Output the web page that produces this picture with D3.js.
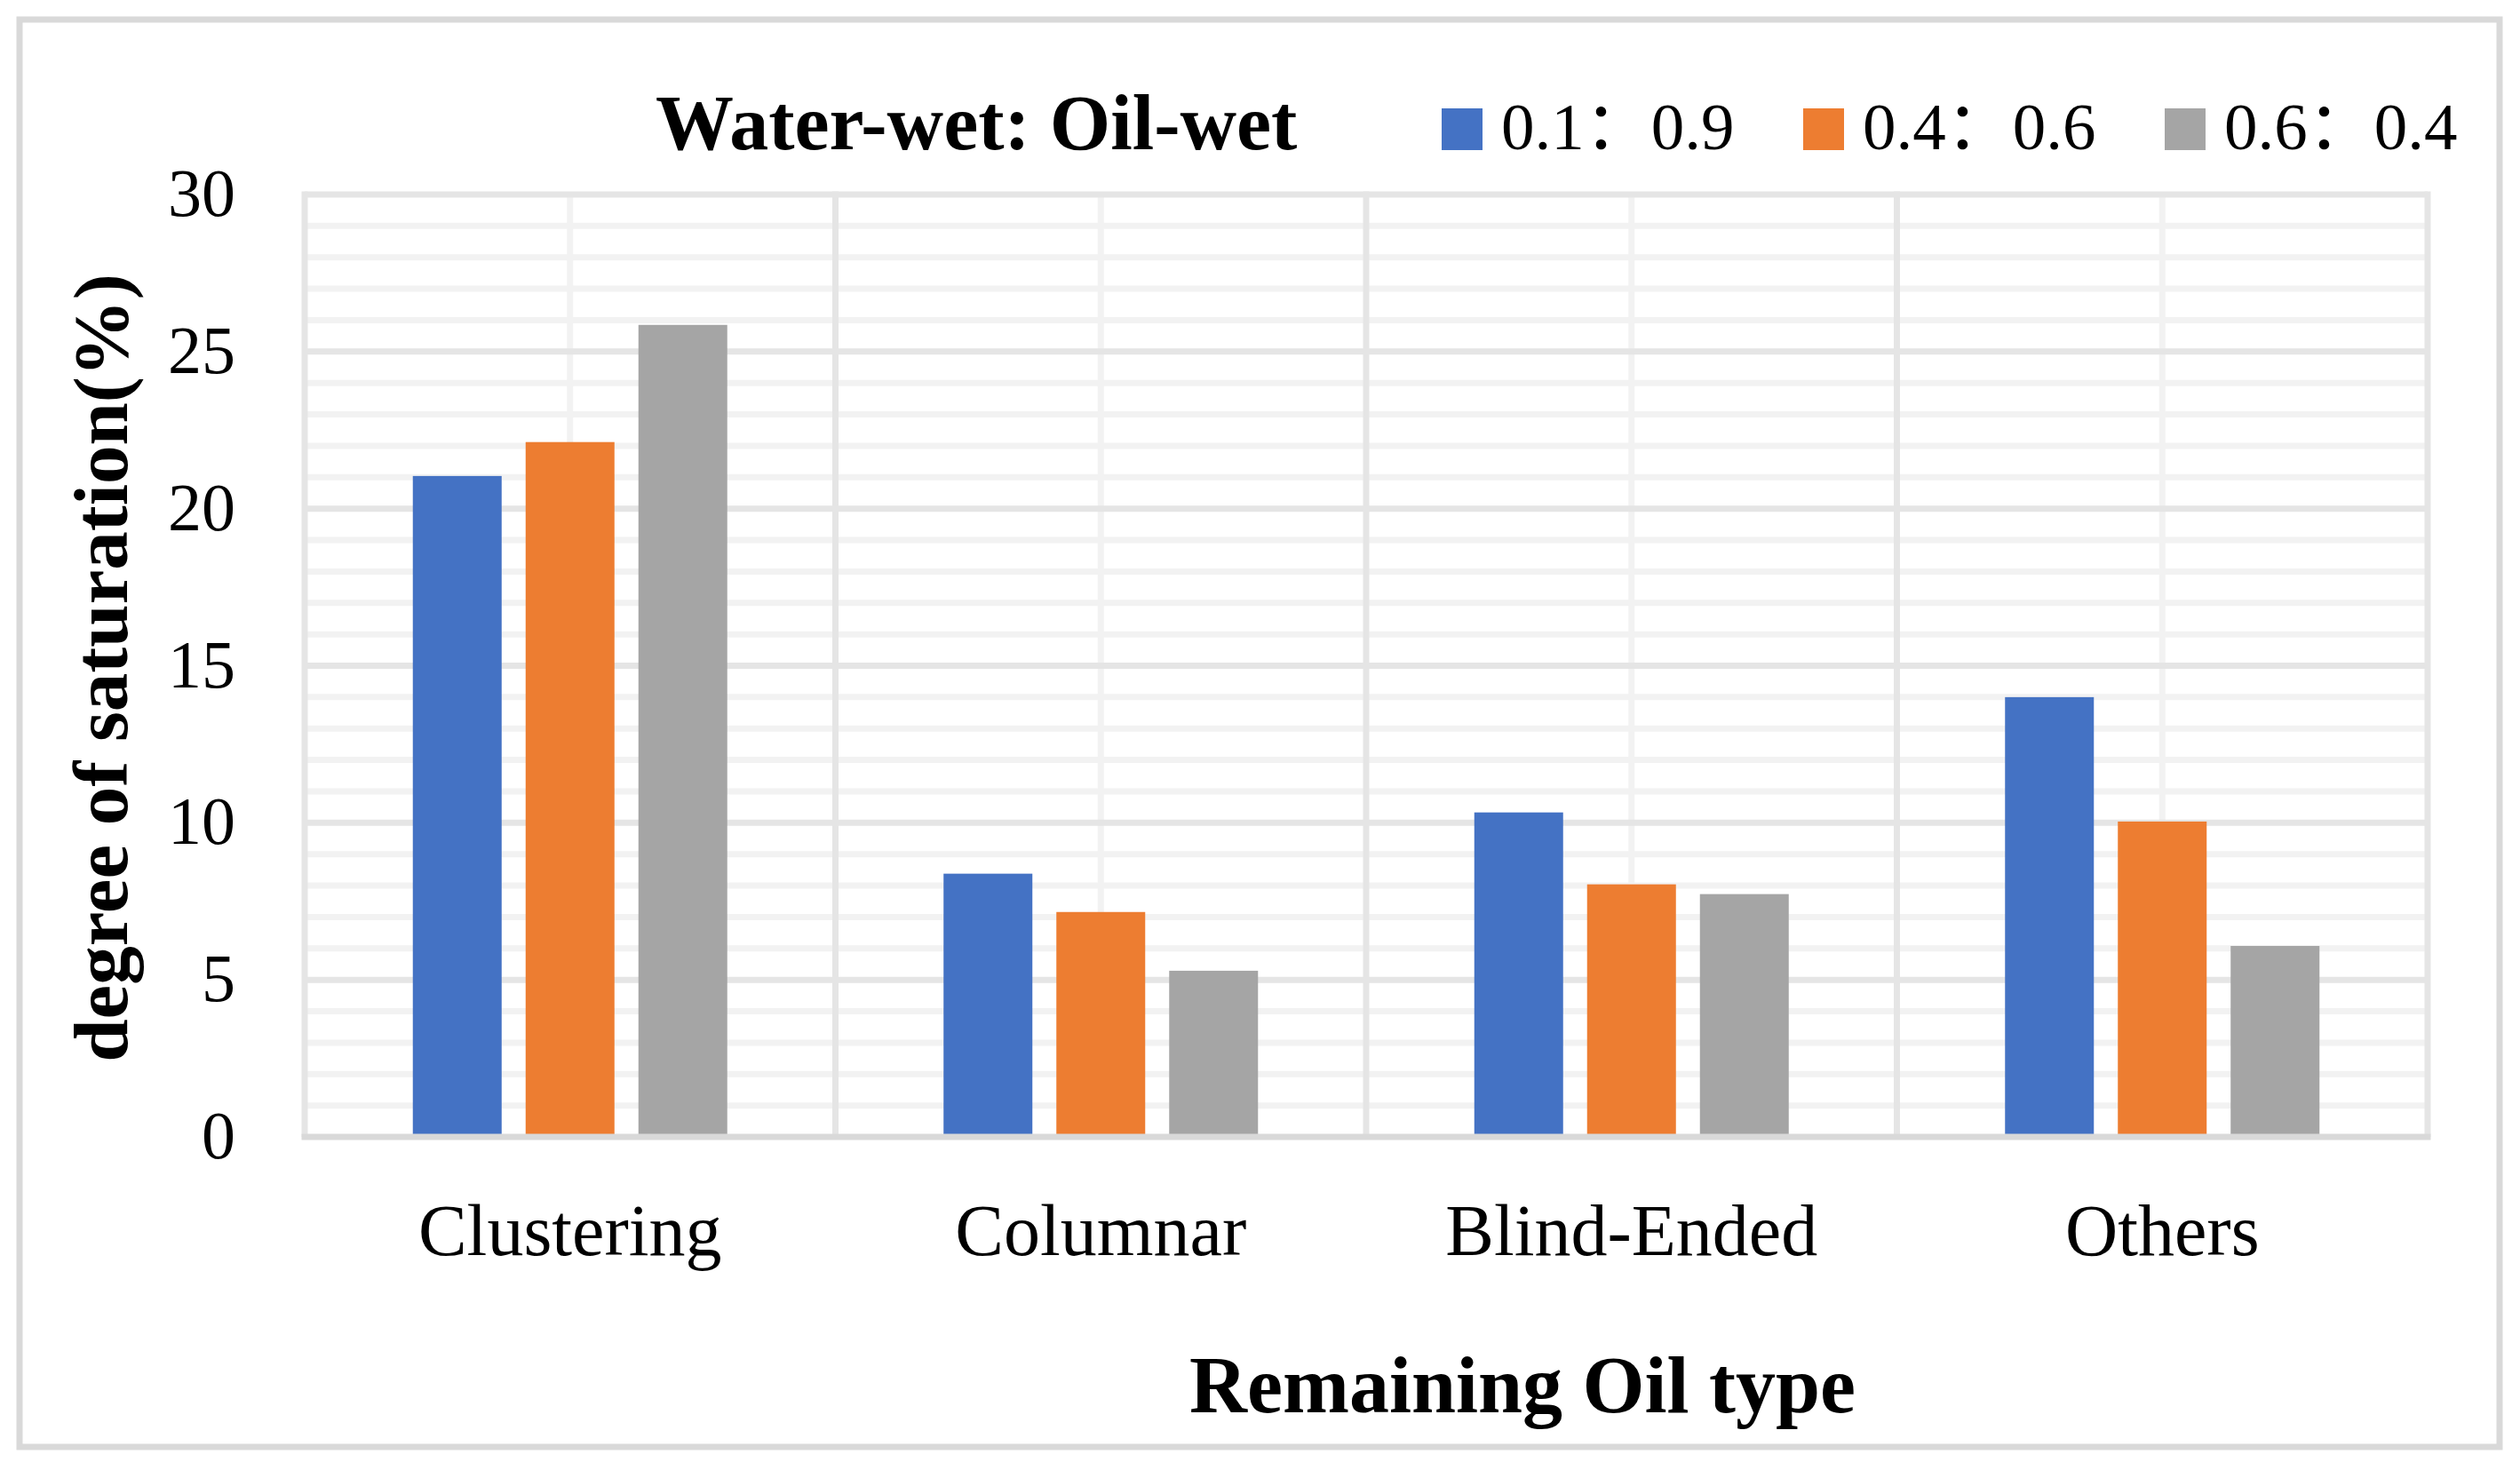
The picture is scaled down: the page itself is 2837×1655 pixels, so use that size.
<!DOCTYPE html>
<html>
<head>
<meta charset="utf-8">
<script src="https://cdn.jsdelivr.net/npm/d3@7"></script>
<style>
  html, body { margin: 0; padding: 0; background: #fff; }
  svg { display: block; }
  text { font-family: "Liberation Serif", "Noto Sans CJK SC", serif; fill: #000; }
</style>
</head>
<body>
<svg id="chart"></svg>
<script>
// values
var categories = ['Clustering', 'Columnar', 'Blind-Ended', 'Others'];
var seriesNames = ['0.1：0.9', '0.4：0.6', '0.6：0.4'];
var seriesColors = ['#4472C4', '#ED7D31', '#A5A5A5'];
var ratio01 = [21.04, 8.38, 10.33, 14.0];
var ratio04 = [22.12, 7.16, 8.04, 10.04];
var ratio06 = [25.85, 5.29, 7.73, 6.08];
var yTicks = [0, 5, 10, 15, 20, 25, 30];

var seriesValues = [ratio01, ratio04, ratio06];

var width = 2837,
    height = 1655,
    plot = { left: 343, right: 2733, top: 219, bottom: 1280 };

var svg = d3.select('#chart')
    .attr('width', width)
    .attr('height', height);

// outer chart border
svg.append('rect')
    .attr('x', 22)
    .attr('y', 22)
    .attr('width', 2814 - 22)
    .attr('height', 1629 - 22)
    .attr('fill', '#fff')
    .attr('stroke', '#d9d9d9')
    .attr('stroke-width', 7);

var x0 = d3.scaleBand()
    .domain(categories)
    .range([plot.left, plot.right])
    .padding(0);

var groupOffset = (x0.bandwidth() - 354) / 2;
var x1 = d3.scaleBand()
    .domain(seriesNames)
    .range([groupOffset, x0.bandwidth() - groupOffset])
    .paddingInner(0.2126)
    .paddingOuter(0);

var y = d3.scaleLinear()
    .domain([0, 30])
    .range([plot.bottom, plot.top]);

var grid = svg.append('g').attr('class', 'grid');

// minor horizontal gridlines (every 1)
grid.selectAll('.minor-h')
    .data(d3.range(1, 30).filter(function(v) { return v % 5 !== 0; }))
    .enter().append('line')
    .attr('class', 'minor-h')
    .attr('x1', plot.left).attr('x2', plot.right)
    .attr('y1', function(d) { return y(d); })
    .attr('y2', function(d) { return y(d); })
    .attr('stroke', '#f2f2f2')
    .attr('stroke-width', 7);

// minor vertical gridlines at category centres
grid.selectAll('.minor-v')
    .data(categories)
    .enter().append('line')
    .attr('class', 'minor-v')
    .attr('x1', function(d) { return x0(d) + x0.bandwidth() / 2; })
    .attr('x2', function(d) { return x0(d) + x0.bandwidth() / 2; })
    .attr('y1', plot.top).attr('y2', plot.bottom)
    .attr('stroke', '#f2f2f2')
    .attr('stroke-width', 7);

// major horizontal gridlines
grid.selectAll('.major-h')
    .data(yTicks.filter(function(v) { return v > 0; }))
    .enter().append('line')
    .attr('class', 'major-h')
    .attr('x1', plot.left).attr('x2', plot.right)
    .attr('y1', function(d) { return y(d); })
    .attr('y2', function(d) { return y(d); })
    .attr('stroke', '#e5e5e5')
    .attr('stroke-width', 7);

// major vertical gridlines at category boundaries
var boundaries = categories.map(function(c) { return x0(c); }).concat([x0.range()[1]]);
grid.selectAll('.major-v')
    .data(boundaries)
    .enter().append('line')
    .attr('class', 'major-v')
    .attr('x1', function(d) { return d; })
    .attr('x2', function(d) { return d; })
    .attr('y1', plot.top - 3.5).attr('y2', plot.bottom)
    .attr('stroke', '#e5e5e5')
    .attr('stroke-width', 7);

// bars
var groups = svg.append('g').attr('class', 'bars')
    .selectAll('g')
    .data(categories)
    .enter().append('g')
    .attr('transform', function(d) { return 'translate(' + x0(d) + ',0)'; });

groups.selectAll('rect')
    .data(function(c, ci) {
        return seriesNames.map(function(s, si) {
            return { series: s, value: seriesValues[si][ci], color: seriesColors[si] };
        });
    })
    .enter().append('rect')
    .attr('x', function(d) { return x1(d.series); })
    .attr('width', x1.bandwidth())
    .attr('y', function(d) { return y(d.value); })
    .attr('height', function(d) { return y(0) - y(d.value); })
    .attr('fill', function(d) { return d.color; });

// category axis line
svg.append('line')
    .attr('x1', plot.left - 3.5).attr('x2', plot.right + 3.5)
    .attr('y1', y(0)).attr('y2', y(0))
    .attr('stroke', '#d9d9d9')
    .attr('stroke-width', 7);

// y tick labels
svg.append('g').attr('class', 'y-ticks')
    .selectAll('text')
    .data(yTicks)
    .enter().append('text')
    .attr('x', 265)
    .attr('y', function(d) { return y(d) + 24; })
    .attr('text-anchor', 'end')
    .style('font-size', '76px')
    .text(function(d) { return d; });

// category labels
svg.append('g').attr('class', 'x-ticks')
    .selectAll('text')
    .data(categories)
    .enter().append('text')
    .attr('x', function(d) { return x0(d) + x0.bandwidth() / 2; })
    .attr('y', 1413)
    .attr('text-anchor', 'middle')
    .style('font-size', '82px')
    .text(function(d) { return d; });

// axis titles
svg.append('text')
    .attr('x', 1714)
    .attr('y', 1590)
    .attr('text-anchor', 'middle')
    .style('font-size', '90px')
    .style('font-weight', 'bold')
    .text('Remaining Oil type');

svg.append('text')
    .attr('transform', 'translate(143,752) rotate(-90)')
    .attr('text-anchor', 'middle')
    .style('font-size', '87px')
    .style('font-weight', 'bold')
    .text('degree of saturation(%)');

// legend title
svg.append('text')
    .attr('x', 738)
    .attr('y', 168)
    .style('font-size', '88px')
    .style('font-weight', 'bold')
    .text('Water-wet: Oil-wet');

// legend entries
var legendX = [1623, 2030, 2437];
var legend = svg.append('g').attr('class', 'legend')
    .selectAll('g')
    .data(seriesNames)
    .enter().append('g')
    .attr('transform', function(d, i) { return 'translate(' + legendX[i] + ',0)'; });

legend.append('rect')
    .attr('x', 0)
    .attr('y', 122)
    .attr('width', 46)
    .attr('height', 47)
    .attr('fill', function(d, i) { return seriesColors[i]; });

legend.append('text')
    .attr('x', 67)
    .attr('y', 168)
    .attr('lang', 'zh-CN')
    .style('font-size', '75px')
    .text(function(d) { return d; });
</script>
</body>
</html>
